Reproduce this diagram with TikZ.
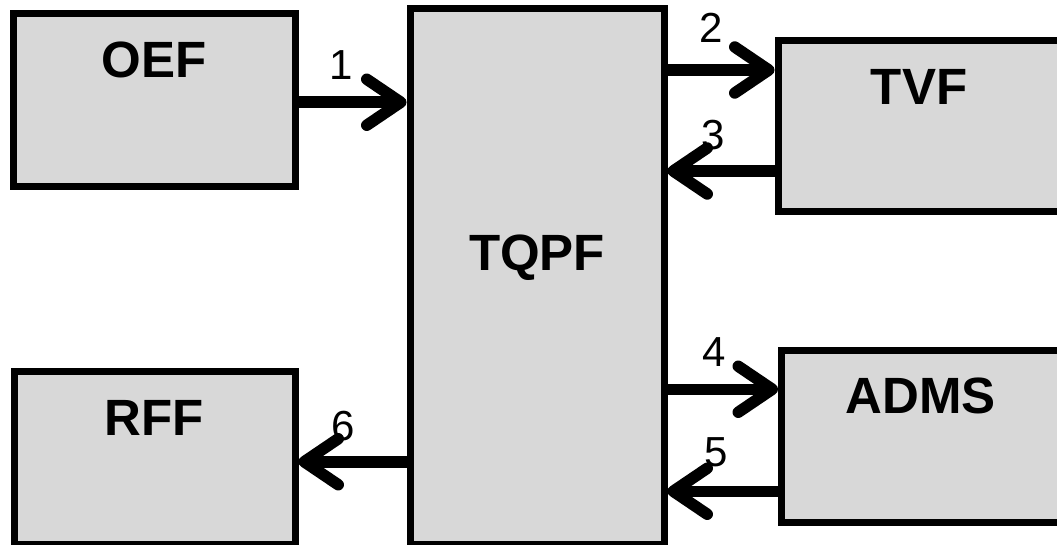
\documentclass[tikz,border=0pt]{standalone}
\usepackage{fontspec}
\setmainfont{Liberation Sans}
\usetikzlibrary{arrows.meta}
\definecolor{boxgray}{HTML}{D8D8D8}

\begin{document}
\begin{tikzpicture}[
        x=1pt, y=-1pt,
        % define styles
        block/.style={
            draw=black,
            fill=boxgray,
            line width=7pt,
            inner sep=0pt
        },
        title/.style={
            font=\bfseries\fontsize{51}{60}\selectfont,
            inner sep=0pt,
            text depth=0pt
        },
        num/.style={
            font=\fontsize{42}{50}\selectfont,
            inner sep=0pt,
            text depth=0pt
        },
        flow/.style={
            line width=11.5pt,
            -{Straight Barb[length=34pt,width=46pt,round]}
        }
    ]
    \useasboundingbox (0,0) rectangle (1057,545);

    % blocks
    \node[block, minimum width=281.5pt, minimum height=173.5pt] (OEF) at (154.25,100.25) {};
    \node[block, minimum width=254pt, minimum height=535.5pt] (TQPF) at (537,276.25) {};
    \node[block, minimum width=282pt, minimum height=171pt] (TVF) at (919,126) {};
    \node[block, minimum width=278.5pt, minimum height=172.5pt] (ADMS) at (920.75,436.25) {};
    \node[block, minimum width=281pt, minimum height=172.5pt] (RFF) at (154.5,457.75) {};

    % block titles
    \foreach \b in {OEF,TVF,ADMS,RFF}
        \node[title] (t\b) at ([yshift=-49.5pt]\b.north) {\b};
    \node[title] (tTQPF) at ([yshift=24pt]TQPF.center) {TQPF};

    % attach points on the outer blocks
    \coordinate (a1) at ([yshift=-2pt]OEF.east);
    \coordinate (a2) at ([yshift=56pt]TVF.west);
    \coordinate (a3) at ([yshift=-45pt]TVF.west);
    \coordinate (a4) at ([yshift=47pt]ADMS.west);
    \coordinate (a5) at ([yshift=-55pt]ADMS.west);
    \coordinate (a6) at ([yshift=-4pt]RFF.east);

    % arrows into and out of TQPF
    \draw[flow] (a1) -- (a1 -| TQPF.west);
    \foreach \a in {2,4}
        \draw[flow] (a\a -| TQPF.east) -- (a\a);
    \foreach \a in {3,5}
        \draw[flow] (a\a) -- (a\a -| TQPF.east);
    \draw[flow] (a6 -| TQPF.west) -- (a6);

    % arrow numbers
    \node[num] (n1) at (341,65) {1};
    \node[num] (n2) at (711,27.5) {2};
    \node[num] (n3) at (713,135) {3};
    \node[num] (n4) at (714,352) {4};
    \node[num] (n5) at (716,452) {5};
    \node[num] (n6) at (343,426) {6};
\end{tikzpicture}
\end{document}
